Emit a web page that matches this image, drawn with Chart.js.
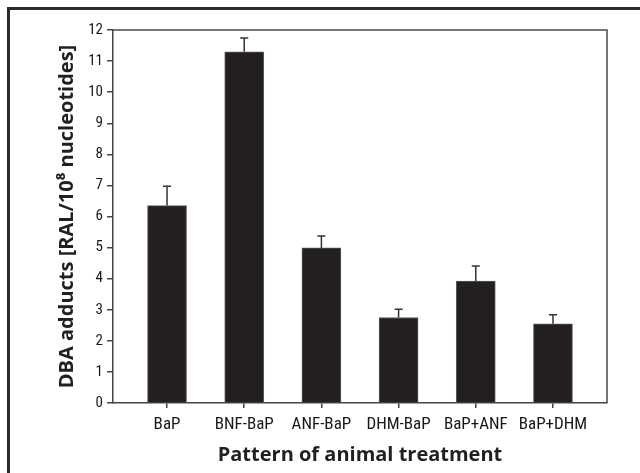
<!DOCTYPE html>
<html>
<head>
<meta charset="utf-8">
<script src="https://cdn.jsdelivr.net/npm/chart.js@4.4.1/dist/chart.umd.min.js"></script>
<style>
  html, body { margin: 0; padding: 0; background: #fff; overflow: hidden; }
  #wrap { position: relative; width: 640px; height: 473px; }
  #frame { position: absolute; left: 7px; top: 7px; width: 700px; height: 600px;
           border-top: 3px solid #2b2b2b; border-left: 3px solid #2b2b2b; pointer-events: none; }
  canvas { position: absolute; left: 0; top: 0; }
</style>
</head>
<body>
<div id="wrap">
  <canvas id="c" width="640" height="473"></canvas>
  <div id="frame"></div>
</div>
<script>
const categories = ["BaP", "BNF-BaP", "ANF-BaP", "DHM-BaP", "BaP+ANF", "BaP+DHM"];
const means = [6.35, 11.30, 4.99, 2.75, 3.92, 2.55];
const errors = [0.62, 0.44, 0.38, 0.27, 0.49, 0.29];
const yTicks = [0,1,2,3,4,5,6,7,8,9,10,11,12];

const textColor = '#1a1718';
const xTickFont = { family: "'Roboto Condensed', 'DejaVu Sans Condensed', sans-serif", size: 17, weight: '400' };
const yTickFont = { family: "'Roboto Condensed', 'DejaVu Sans Condensed', sans-serif", size: 15, weight: '400' };
const titleFont = { family: "'Open Sans', 'DejaVu Sans', sans-serif", size: 20, weight: '700', lineHeight: 1.2 };

const errorBars = {
  id: 'errorBars',
  afterDatasetsDraw(chart) {
    const ctx = chart.ctx, xs = chart.scales.x, ys = chart.scales.y;
    ctx.save();
    ctx.strokeStyle = '#333';
    ctx.lineWidth = 1.5;
    means.forEach((m, i) => {
      const x = xs.getPixelForValue(i);
      const y0 = ys.getPixelForValue(m);
      const y1 = ys.getPixelForValue(m + errors[i]);
      ctx.beginPath();
      ctx.moveTo(x, y0); ctx.lineTo(x, y1);
      ctx.moveTo(x - 4, y1); ctx.lineTo(x + 4, y1);
      ctx.stroke();
    });
    ctx.restore();
  }
};

const boxPlugin = {
  id: 'boxPlugin',
  afterDraw(chart) {
    const a = chart.chartArea, ctx = chart.ctx;
    ctx.save();
    ctx.strokeStyle = '#4a4a4a';
    ctx.lineWidth = 1.5;
    ctx.beginPath();
    ctx.moveTo(a.left, a.top); ctx.lineTo(a.right, a.top); ctx.lineTo(a.right, a.bottom);
    ctx.stroke();
    ctx.restore();
  }
};

new Chart(document.getElementById('c'), {
  type: 'bar',
  data: {
    datasets: [{
      data: means.map((v, i) => ({ x: i, y: v })),
      backgroundColor: '#231f20',
      borderColor: '#5a5a5a',
      borderWidth: 1,
      barThickness: 39
    }]
  },
  options: {
    responsive: false,
    animation: false,
    layout: { padding: { left: 55, right: 33, top: 30, bottom: 6 } },
    plugins: { legend: { display: false }, tooltip: { enabled: false } },
    scales: {
      x: {
        type: 'linear',
        offset: false,
        min: -0.7, max: 5.7,
        afterBuildTicks(scale) { scale.ticks = categories.map((c, i) => ({ value: i })); },
        afterFit(scale) { scale.height = 64; },
        ticks: {
          autoSkip: false, maxRotation: 0, padding: 7,
          color: textColor, font: xTickFont,
          callback: (v) => categories[v]
        },
        grid: { display: true, offset: false, drawOnChartArea: false, drawTicks: true, tickLength: 5, color: '#444', lineWidth: 1.5 },
        border: { display: true, color: '#444', width: 1.5 },
        title: { display: true, text: 'Pattern of animal treatment', color: '#231f20', font: titleFont, padding: 0 }
      },
      y: {
        min: 0, max: 12,
        afterBuildTicks(scale) { scale.ticks = yTicks.map(v => ({ value: v })); },
        afterFit(scale) { scale.width = 58; },
        ticks: { stepSize: 1, padding: 4, color: textColor, font: yTickFont },
        grid: { display: true, drawOnChartArea: false, drawTicks: true, tickLength: 6, color: '#444', lineWidth: 1.5 },
        border: { display: true, color: '#444', width: 1.5 },
        title: { display: true, text: 'DBA adducts [RAL/10\u2078 nucleotides]', color: '#231f20', font: titleFont, padding: 0 }
      }
    }
  },
  plugins: [errorBars, boxPlugin]
});
</script>
</body>
</html>
